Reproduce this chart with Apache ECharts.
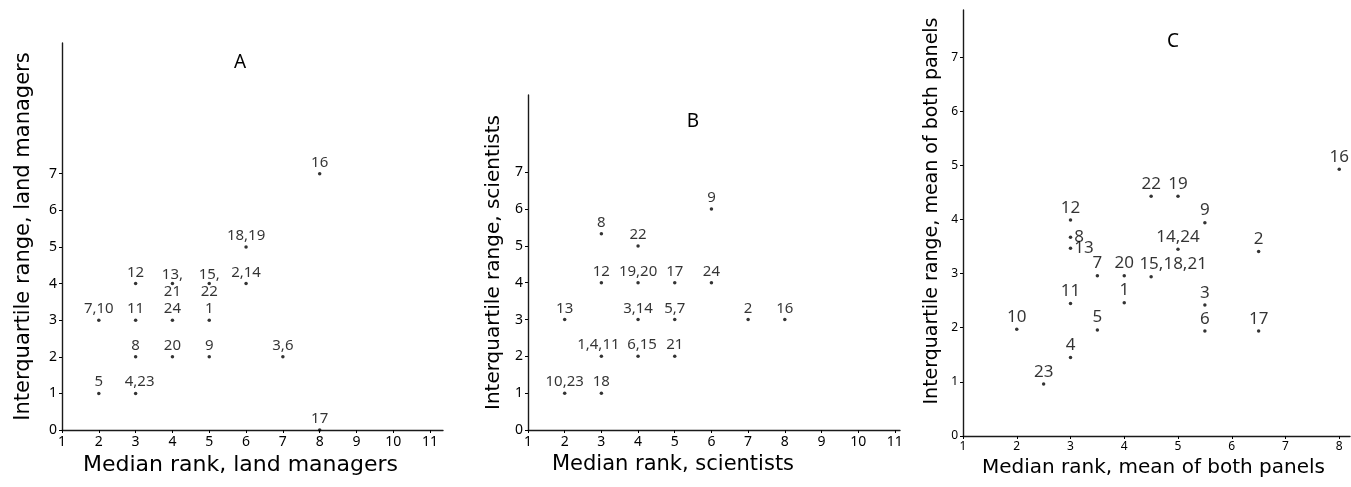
<!DOCTYPE html>
<html>
<head>
<meta charset="utf-8">
<script src="https://cdn.jsdelivr.net/npm/echarts@6/dist/echarts.min.js"></script>
<style>
  html, body { margin: 0; padding: 0; background: #fff; }
  #chart { width: 1351px; height: 487px; }
</style>
</head>
<body>
<div id="chart"></div>
<script>
// panel A: land managers
const aLabels = ['16', '18,19', '12', '13,\n21', '15,\n22', '2,14', '7,10', '11', '24', '1', '8', '20', '9', '3,6', '5', '4,23', '17'];
const aMedian = [8, 6, 3, 4, 5, 6, 2, 3, 4, 5, 3, 4, 5, 7, 2, 3, 8];
const aIqr = [7, 5, 4, 4, 4, 4, 3, 3, 3, 3, 2, 2, 2, 2, 1, 1, 0];

// panel B: scientists
const bLabels = ['9', '8', '22', '12', '19,20', '17', '24', '13', '3,14', '5,7', '2', '16', '1,4,11', '6,15', '21', '10,23', '18'];
const bMedian = [6, 3, 4, 3, 4, 5, 6, 2, 4, 5, 7, 8, 3, 4, 5, 2, 3];
const bIqr = [6, 5.33, 5, 4, 4, 4, 4, 3, 3, 3, 3, 3, 2, 2, 2, 1, 1];

// panel C: mean of both panels
const cLabels = ['16', '22', '19', '12', '9', '8', '14,24', '2', '13', '7', '20', '15,18,21', '11', '1', '3', '10', '5', '6', '17', '4', '23'];
const cMedian = [8, 4.5, 5, 3, 5.5, 3, 5, 6.5, 3, 3.5, 4, 4.5, 3, 4, 5.5, 2, 3.5, 5.5, 6.5, 3, 2.5];
const cIqr = [4.93, 4.43, 4.43, 3.99, 3.94, 3.67, 3.45, 3.41, 3.47, 2.96, 2.96, 2.94, 2.45, 2.46, 2.42, 1.97, 1.96, 1.94, 1.94, 1.45, 0.96];

const xTicksAB = [1, 2, 3, 4, 5, 6, 7, 8, 9, 10, 11];
const xTicksC = [1, 2, 3, 4, 5, 6, 7, 8];
const yTicks = [0, 1, 2, 3, 4, 5, 6, 7];

const panelTitles = ['A', 'B', 'C'];

const NUM_FONT = '"Noto Sans", sans-serif';
const NAME_FONT = '"DejaVu Sans", sans-serif';
const INK = '#000';

// label layout tweaks for crowded points
const tweaks = [
  { '13,\n21': { position: 'inside' }, '15,\n22': { position: 'inside' }, '4,23': { offset: [4, 0] } },
  { '1,4,11': { offset: [-3, 0] }, '6,15': { offset: [4, 0] } },
  { '8': { position: 'right', distance: 2 }, '13': { position: 'right', distance: 2 }, '15,18,21': { offset: [22, 0] } }
];

const panels = [
  { labels: aLabels, xs: aMedian, ys: aIqr },
  { labels: bLabels, xs: bMedian, ys: bIqr },
  { labels: cLabels, xs: cMedian, ys: cIqr }
];

const grids = [
  { left: 62, top: 43, width: 381, height: 387 },
  { left: 528, top: 95, width: 372, height: 335 },
  { left: 963, top: 10, width: 387, height: 426 }
];

const axisCommon = (fontSize) => ({
  type: 'value',
  splitLine: { show: false },
  axisLine: { show: true, onZero: false, lineStyle: { color: '#1a1a1a', width: 1.4 } },
  axisTick: { show: true, length: 3, lineStyle: { color: INK, width: 1 } },
  axisLabel: { color: INK, fontFamily: NUM_FONT, fontSize: fontSize, margin: 5 },
  nameLocation: 'middle',
  nameTextStyle: { color: INK, fontFamily: NAME_FONT }
});

const xAxes = [
  { min: 1, max: 11.35, ticks: xTicksAB, name: 'Median rank, land managers', gap: 18, size: 22, pad: [0, 24, 0, 0], fs: 14 },
  { min: 1, max: 11.14, ticks: xTicksAB, name: 'Median rank, scientists', gap: 24, size: 21, pad: [0, 82, 0, 0], fs: 14 },
  { min: 1, max: 8.2, ticks: xTicksC, name: 'Median rank, mean of both panels', gap: 15, size: 20, pad: [0, 6, 0, 0], fs: 12 }
].map((a, i) => {
  const ax = axisCommon(a.fs);
  ax.gridIndex = i;
  ax.min = a.min;
  ax.max = a.max;
  ax.axisTick.customValues = a.ticks;
  ax.axisLabel.customValues = a.ticks;
  ax.name = a.name;
  ax.nameGap = a.gap;
  ax.nameTextStyle.fontSize = a.size;
  ax.nameTextStyle.padding = a.pad;
  return ax;
});

const yAxes = [
  { max: 10.57, name: 'Interquartile range, land managers', gap: 28, size: 21, pad: [0, 0, 0, 0], fs: 14 },
  { max: 9.1, name: 'Interquartile range, scientists', gap: 24, size: 20, pad: [0, 0, 0, 0], fs: 14 },
  { max: 7.87, name: 'Interquartile range, mean of both panels', gap: 21, size: 19, pad: [0, 0, 0, 24], fs: 12 }
].map((a, i) => {
  const ax = axisCommon(a.fs);
  ax.gridIndex = i;
  ax.min = 0;
  ax.max = a.max;
  ax.axisTick.customValues = yTicks;
  ax.axisLabel.customValues = yTicks;
  ax.name = a.name;
  ax.nameGap = a.gap;
  ax.nameTextStyle.fontSize = a.size;
  ax.nameTextStyle.padding = a.pad;
  return ax;
});

const series = panels.map((p, i) => ({
  type: 'scatter',
  xAxisIndex: i,
  yAxisIndex: i,
  symbol: 'circle',
  symbolSize: 3.5,
  itemStyle: { color: INK },
  label: {
    show: true,
    position: 'top',
    distance: 1,
    formatter: '{b}',
    color: INK,
    fontFamily: NUM_FONT,
    fontSize: i === 2 ? 17 : 15,
    lineHeight: i === 2 ? 19 : 17
  },
  data: p.xs.map((x, k) => {
    const item = { name: p.labels[k], value: [x, p.ys[k]] };
    if (tweaks[i][p.labels[k]]) item.label = tweaks[i][p.labels[k]];
    return item;
  })
}));

const titlePos = [[240, 63], [693, 122], [1173, 42]];

const chart = echarts.init(document.getElementById('chart'));
chart.setOption({
  backgroundColor: '#fff',
  animation: false,
  grid: grids.map(g => Object.assign({ outerBoundsMode: 'none', containLabel: false }, g)),
  xAxis: xAxes,
  yAxis: yAxes,
  series: series,
  graphic: panelTitles.map((t, i) => ({
    type: 'text',
    x: titlePos[i][0],
    y: titlePos[i][1],
    style: {
      text: t,
      fill: INK,
      font: '19px "Noto Sans", sans-serif',
      textAlign: 'center',
      textVerticalAlign: 'middle'
    }
  }))
});
</script>
</body>
</html>
